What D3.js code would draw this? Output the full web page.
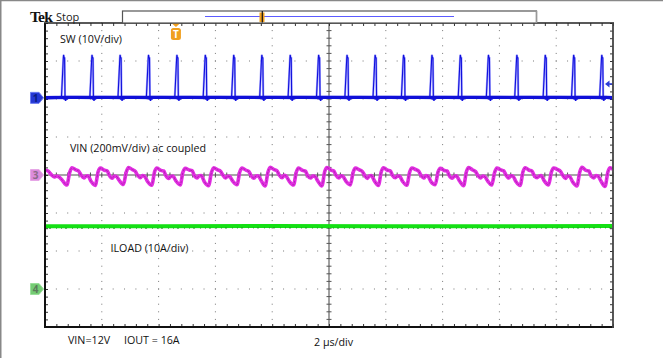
<!DOCTYPE html>
<html><head><meta charset="utf-8">
<script src="https://cdn.jsdelivr.net/npm/d3@7"></script>
<style>
html,body{margin:0;padding:0;background:#fff;}
svg{display:block;}
</style></head>
<body>
<svg id="chart" width="663" height="358"></svg>
<script>
// ---------------- DATA ----------------
// horizontal: time in µs (2 µs/div, 10 divisions), vertical: divisions
const timeDomain = [-10, 10];
const divDomain = [-4, 4];
const channelLabels = ["SW (10V/div)", "VIN (200mV/div) ac coupled", "ILOAD (10A/div)"];
const footerLabels = ["VIN=12V", "IOUT = 16A", "2 µs/div"];
const headerLabels = ["Tek", "Stop"];
// channel reference levels (divisions from center) and scales
const chRefDiv = {sw: 2.03, vin: 0, iload: -3};
const chScale = {sw: 10, vin: 200, iload: 10}; // V/div, mV/div, A/div

// SW node: rising edge times of each switching pulse (µs)
const swPulseStart = [-9.41,-8.41,-7.42,-6.42,-5.42,-4.42,-3.42,-2.43,-1.43,-0.43,
                      0.57,1.56,2.56,3.56,4.56,5.55,6.55,7.55,8.55,9.54];
// pulse profile: [offset µs, volts]
const swPulseShape = [[-0.01,0.2],[0.055,10.4],[0.065,11.3],[0.08,10.6],[0.10,10.5],[0.115,0.2],[0.135,-0.8],[0.16,0.3]];

// VIN ripple (ac coupled): [time µs, mV]
const vinTrace = [
[-10.0,26],[-9.89,21],[-9.78,2],[-9.68,-10],[-9.58,-6],[-9.51,-10],[-9.40,-26],
[-9.23,-53],[-9.13,14],[-9.05,38],[-8.91,27],[-8.81,20],[-8.74,2],[-8.63,-15],[-8.56,-6],[-8.49,-4],[-8.38,-33],
[-8.23,-55],[-8.13,17],[-8.05,36],[-7.91,25],[-7.81,22],[-7.74,-1],[-7.63,-17],[-7.56,-5],[-7.49,-7],[-7.38,-30],
[-7.24,-50],[-7.14,15],[-7.06,39],[-6.92,28],[-6.82,19],[-6.75,1],[-6.64,-14],[-6.57,-3],[-6.50,-6],[-6.39,-34],
[-6.24,-54],[-6.14,18],[-6.06,37],[-5.92,24],[-5.82,21],[-5.75,-2],[-5.64,-18],[-5.57,-7],[-5.50,-5],[-5.39,-31],
[-5.24,-52],[-5.14,16],[-5.06,35],[-4.92,26],[-4.82,23],[-4.75,0],[-4.64,-15],[-4.57,-4],[-4.50,-3],[-4.39,-35],
[-4.24,-56],[-4.14,13],[-4.06,38],[-3.92,27],[-3.82,20],[-3.75,3],[-3.64,-16],[-3.57,-6],[-3.50,-8],[-3.39,-32],
[-3.24,-51],[-3.14,17],[-3.06,36],[-2.92,25],[-2.82,18],[-2.75,-1],[-2.64,-17],[-2.57,-5],[-2.50,-4],[-2.39,-29],
[-2.25,-58],[-2.15,15],[-2.07,40],[-1.93,28],[-1.83,22],[-1.76,1],[-1.65,-14],[-1.58,-2],[-1.51,-6],[-1.40,-33],
[-1.25,-53],[-1.15,16],[-1.07,37],[-0.93,24],[-0.83,20],[-0.76,-2],[-0.65,-16],[-0.58,-6],[-0.51,-5],[-0.40,-30],
[-0.25,-57],[-0.15,18],[-0.07,39],[0.07,26],[0.17,21],[0.24,0],[0.35,-15],[0.42,-4],[0.49,-7],[0.60,-34],
[0.75,-52],[0.85,14],[0.93,36],[1.07,27],[1.17,19],[1.24,2],[1.35,-18],[1.42,-5],[1.49,-3],[1.60,-31],
[1.74,-55],[1.84,17],[1.92,38],[2.06,25],[2.16,22],[2.23,-1],[2.34,-14],[2.41,-6],[2.48,-6],[2.59,-33],
[2.74,-54],[2.84,15],[2.92,37],[3.06,28],[3.16,20],[3.23,1],[3.34,-16],[3.41,-3],[3.48,-5],[3.59,-35],
[3.74,-51],[3.84,16],[3.92,35],[4.06,24],[4.16,21],[4.23,-2],[4.34,-17],[4.41,-7],[4.48,-4],[4.59,-30],
[4.74,-56],[4.84,18],[4.92,39],[5.06,26],[5.16,18],[5.23,0],[5.34,-15],[5.41,-5],[5.48,-8],[5.59,-32],
[5.73,-53],[5.83,13],[5.91,36],[6.05,27],[6.15,22],[6.22,3],[6.33,-16],[6.40,-4],[6.47,-5],[6.58,-34],
[6.73,-55],[6.83,17],[6.91,38],[7.05,25],[7.15,20],[7.22,-1],[7.33,-14],[7.40,-6],[7.47,-3],[7.58,-31],
[7.73,-52],[7.83,15],[7.91,37],[8.05,28],[8.15,19],[8.22,1],[8.33,-18],[8.40,-5],[8.47,-7],[8.58,-36],
[8.73,-57],[8.83,16],[8.91,40],[9.05,24],[9.15,21],[9.22,-2],[9.33,-15],[9.40,-3],[9.47,-5],[9.58,-33],
[9.72,-60],[9.82,16],[9.90,38],[10.0,30]
];

// ILOAD: [time µs, A]
const iloadTrace = [[-10,16.5],[-6,16.5],[-2,16.6],[2,16.5],[6,16.5],[10,16.6]];

// ---------------- DRAW ----------------
const svg = d3.select("#chart");
const x = d3.scaleLinear().domain(timeDomain).range([45, 613]);
const y = d3.scaleLinear().domain(divDomain).range([327, 23]);
const L = 45, R = 613, T = 23, B = 327, CX = x(0), CY = y(0);
const SANS = "'Open Sans', sans-serif";

// outer frame
svg.append("line").attr("x1",0).attr("x2",663).attr("y1",0.5).attr("y2",0.5).attr("stroke","#888").attr("stroke-width",1.5);
svg.append("line").attr("x1",0.75).attr("x2",0.75).attr("y1",0).attr("y2",358).attr("stroke","#888").attr("stroke-width",1.5);

const grid = svg.append("g");
const minorT = d3.range(-10, 10.001, 0.4);
const minorD = d3.range(-4, 4.001, 0.2);
// dotted graticule
for (let i = -8; i <= 8; i += 2) {
  if (i === 0) continue;
  minorD.forEach(d => grid.append("rect").attr("x", x(i)-0.5).attr("y", y(d)-0.5).attr("width",1).attr("height",1).attr("fill","#777"));
}
for (let j = -3; j <= 3; j++) {
  if (j === 0) continue;
  minorT.forEach(t => grid.append("rect").attr("x", x(t)-0.5).attr("y", y(j)-0.5).attr("width",1).attr("height",1).attr("fill","#777"));
}
// center cross
grid.append("line").attr("x1",CX).attr("x2",CX).attr("y1",T).attr("y2",B).attr("stroke","#8a8a8a").attr("stroke-width",1.6);
grid.append("line").attr("x1",L).attr("x2",R).attr("y1",CY).attr("y2",CY).attr("stroke","#8a8a8a").attr("stroke-width",1.6);
minorD.forEach(d => grid.append("line").attr("x1",CX-2.5).attr("x2",CX+2.5).attr("y1",y(d)).attr("y2",y(d)).attr("stroke","#555").attr("stroke-width",1));
minorT.forEach(t => grid.append("line").attr("x1",x(t)).attr("x2",x(t)).attr("y1",CY-2.5).attr("y2",CY+2.5).attr("stroke","#555").attr("stroke-width",1));

// frame ticks via d3 axes
function tickAxis(axis, tr) {
  const g = svg.append("g").attr("transform", tr).call(axis);
  g.select(".domain").remove();
  g.selectAll(".tick line").attr("stroke","#333");
  g.selectAll("text").remove();
}
tickAxis(d3.axisBottom(x).tickValues(minorT).tickSize(3).tickFormat(""), `translate(0,${T})`);
tickAxis(d3.axisTop(x).tickValues(minorT).tickSize(3).tickFormat(""), `translate(0,${B})`);
tickAxis(d3.axisRight(y).tickValues(minorD).tickSize(3).tickFormat(""), `translate(${L},0)`);
tickAxis(d3.axisLeft(y).tickValues(minorD).tickSize(3).tickFormat(""), `translate(${R},0)`);

// plot border
svg.append("line").attr("x1",L).attr("x2",L).attr("y1",T).attr("y2",B+1).attr("stroke","#111").attr("stroke-width",2);
svg.append("line").attr("x1",L-1).attr("x2",R+1).attr("y1",B).attr("y2",B).attr("stroke","#111").attr("stroke-width",2);
svg.append("line").attr("x1",L-1).attr("x2",R+1).attr("y1",T).attr("y2",T).attr("stroke","#222").attr("stroke-width",1.6);
svg.append("line").attr("x1",R).attr("x2",R).attr("y1",T).attr("y2",B+1).attr("stroke","#444").attr("stroke-width",1.8);

// ---------- traces ----------
svg.append("clipPath").attr("id","plotclip").append("rect").attr("x",L+1).attr("y",T+1).attr("width",R-L-2).attr("height",B-T-2);
const traces = svg.append("g").attr("clip-path","url(#plotclip)");

// ILOAD
const iLine = d3.line().x(d => x(d[0])).y(d => y(chRefDiv.iload + d[1]/chScale.iload));
traces.append("path").attr("d", iLine(iloadTrace)).attr("fill","none").attr("stroke","#14e014").attr("stroke-width",4);
traces.append("path").attr("d", iLine(iloadTrace)).attr("transform","translate(0,2)").attr("fill","none")
  .attr("stroke","#1a7a1a").attr("stroke-width",1).attr("stroke-dasharray","1 3 2 5 1 4").attr("opacity",0.7);

// VIN
const vLine = d3.line().x(d => x(d[0])).y(d => y(chRefDiv.vin + d[1]/chScale.vin)).curve(d3.curveMonotoneX);
traces.append("path").attr("d", vLine(vinTrace)).attr("fill","none").attr("stroke","#e22ee2").attr("stroke-width",3.6).attr("stroke-linejoin","round");
traces.append("path").attr("d", vLine(vinTrace)).attr("fill","none").attr("stroke","#8a1a8a").attr("stroke-width",0.9).attr("opacity",0.6).attr("stroke-dasharray","3 1 2 2");

// SW
const swPts = [[-10,0]];
swPulseStart.forEach(t0 => swPulseShape.forEach(p => swPts.push([t0 + p[0], p[1]])));
swPts.push([10,0]);
const sLine = d3.line().x(d => x(d[0])).y(d => y(chRefDiv.sw + d[1]/chScale.sw));
const base = y(chRefDiv.sw);
svg.append("clipPath").attr("id","swband").append("rect").attr("x",L+1).attr("y",base-2.2).attr("width",R-L-2).attr("height",4.2);
traces.append("path").attr("d", sLine(swPts)).attr("fill","none").attr("stroke","#a8a8ff").attr("stroke-width",2.2);
traces.append("path").attr("d", sLine(swPts)).attr("fill","none").attr("stroke","#1010dd").attr("stroke-width",1.1);
svg.append("g").attr("clip-path","url(#swband)").append("path").attr("d", sLine(swPts)).attr("fill","none").attr("stroke","#1010d8").attr("stroke-width",4);

// ---------- markers ----------
function chMarker(cy, fill, stroke, label, lc) {
  const g = svg.append("g");
  g.append("path").attr("d", `M30.5,${cy-5.5} H39 L43.5,${cy} L39,${cy+5.5} H30.5 Z`).attr("fill", fill).attr("stroke", stroke).attr("stroke-width",1);
  g.append("text").attr("x",35.5).attr("y",cy+4).attr("text-anchor","middle").style("font-family",SANS).style("font-size","10px").style("font-weight","bold").attr("fill",lc).text(label);
}
chMarker(y(chRefDiv.sw), "#2437d4", "#6a7af0", "1", "#0a1a80");
chMarker(y(chRefDiv.vin), "#dc8cdc", "#e6a6e6", "3", "#8a6a8a");
chMarker(y(chRefDiv.iload), "#74cc74", "#9ade9a", "4", "#5a7a5a");

// trigger level arrow (right)
const trigY = 84;
svg.append("path").attr("d", `M605,${trigY} L609.5,${trigY-3.5} L609.5,${trigY+3.5} Z`).attr("fill","#2a3ad8");
svg.append("line").attr("x1",609).attr("x2",612).attr("y1",trigY).attr("y2",trigY).attr("stroke","#2a3ad8").attr("stroke-width",1.5);

// trigger position marker "T"
const tx = x(-5.39);
svg.append("path").attr("d", `M${tx-4},${T+0.5} H${tx+4} L${tx},${T+4} Z`).attr("fill","#f0a020");
svg.append("rect").attr("x",tx-5).attr("y",28).attr("width",10).attr("height",12).attr("rx",2.5).attr("fill","#f0a020");
svg.append("text").attr("x",tx).attr("y",38).attr("text-anchor","middle").style("font-family",SANS).style("font-size","10px").style("font-weight","bold").attr("fill","#fff").text("T");

// record bar
svg.append("rect").attr("x",122.5).attr("y",11).attr("width",414).attr("height",12).attr("fill","#fff").attr("stroke","#555").attr("stroke-width",1.2);
svg.append("line").attr("x1",536.5).attr("x2",536.5).attr("y1",11).attr("y2",23).attr("stroke","#999").attr("stroke-width",1.5);
svg.append("line").attr("x1",205).attr("x2",454).attr("y1",16.5).attr("y2",16.5).attr("stroke","#5a5aff").attr("stroke-width",1);
svg.append("rect").attr("x",259.5).attr("y",12.5).attr("width",5).attr("height",9.5).attr("fill","#f0a020");
svg.append("line").attr("x1",262.3).attr("x2",262.3).attr("y1",11).attr("y2",22.5).attr("stroke","#111").attr("stroke-width",1.2);

// header
svg.append("text").attr("x",30).attr("y",21.5).style("font-family","'Liberation Serif','DejaVu Serif',serif").style("font-weight","bold").style("font-size","15.5px").style("letter-spacing","-0.8px").attr("fill","#111").text(headerLabels[0]);
svg.append("text").attr("x",56).attr("y",21).style("font-family",SANS).style("font-size","11px").attr("fill","#222").text(headerLabels[1]);

// labels
const lab = (tx, ty, s) => svg.append("text").attr("x",tx).attr("y",ty).style("font-family",SANS).style("font-size","10.7px").attr("fill","#111").text(s);
lab(60, 43, channelLabels[0]);
lab(70, 152, channelLabels[1]);
lab(110.5, 252, channelLabels[2]);
lab(68, 344, footerLabels[0]);
lab(124, 344, footerLabels[1]);
lab(314, 346, footerLabels[2]);
</script>
</body></html>
